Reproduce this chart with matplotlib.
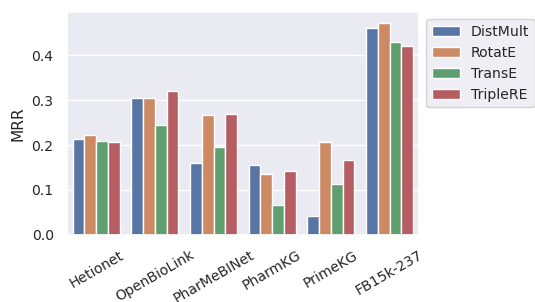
import pandas as pd
import seaborn as sns
import matplotlib
matplotlib.use("Agg")
import matplotlib.pyplot as plt

datasets = ["Hetionet", "OpenBioLink", "PharMeBINet", "PharmKG", "PrimeKG", "FB15k-237"]
models = ["DistMult", "RotatE", "TransE", "TripleRE"]

distmult = [0.213, 0.304, 0.161, 0.155, 0.042, 0.460]
rotate = [0.223, 0.304, 0.267, 0.136, 0.207, 0.472]
transe = [0.208, 0.244, 0.196, 0.067, 0.114, 0.428]
triplere = [0.207, 0.321, 0.268, 0.142, 0.167, 0.420]

# tabla larga para seaborn
rows = []
for m, vals in zip(models, [distmult, rotate, transe, triplere]):
    for d, v in zip(datasets, vals):
        rows.append({"dataset": d, "model": m, "MRR": v})
df = pd.DataFrame(rows)

sns.set_theme(style="darkgrid", font_scale=0.92)

fig, ax = plt.subplots(figsize=(5.35, 3.02), dpi=100)
sns.barplot(data=df, x="dataset", y="MRR", hue="model", order=datasets,
            hue_order=models, ax=ax)
ax.set_xlabel("")
ax.set_ylim(0, 0.4956)
ax.set_yticks([0.0, 0.1, 0.2, 0.3, 0.4])
plt.xticks(rotation=30)
ax.legend(loc="upper left", bbox_to_anchor=(1.0, 1.0))
fig.subplots_adjust(left=0.125, right=0.783, top=0.960, bottom=0.222)
fig.savefig("out.png", dpi=100)
